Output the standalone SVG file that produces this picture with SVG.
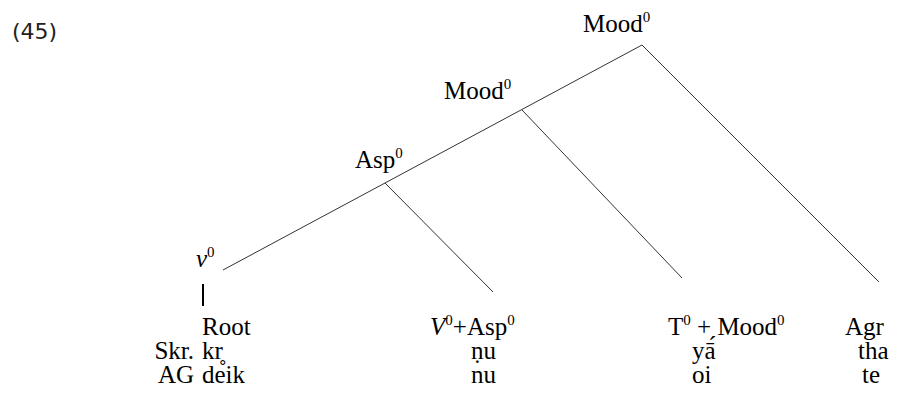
<svg xmlns="http://www.w3.org/2000/svg" width="921" height="408" viewBox="0 0 921 408">
<style>
.t{font-family:"Liberation Serif","Times New Roman","DejaVu Serif",serif;font-size:25px;fill:#000}
.s{font-size:15px}
.n{font-family:"DejaVu Sans",Verdana,sans-serif;font-size:22px;fill:#222}
.e{stroke:#333;stroke-width:1;fill:none}
</style>
<rect width="921" height="408" fill="#fff"/>
<text class="n" x="12" y="39">(45)</text>
<g id="connectors">
<line class="e" x1="642" y1="45" x2="223" y2="270"/>
<line class="e" x1="642" y1="45" x2="879" y2="282"/>
<line class="e" x1="522" y1="110" x2="682" y2="278"/>
<line class="e" x1="385" y1="183" x2="493" y2="292"/>
<line x1="203" y1="284" x2="203" y2="306" stroke="#000" stroke-width="2"/>
</g>
<g id="mood-top"><text class="t" x="583" y="32">Mood<tspan class="s" dy="-10">0</tspan></text></g>
<g id="mood-mid"><text class="t" x="444" y="99">Mood<tspan class="s" dy="-10">0</tspan></text></g>
<g id="asp"><text class="t" x="355" y="168">Asp<tspan class="s" dy="-10">0</tspan></text></g>
<g id="v"><text class="t" x="196" y="267"><tspan font-style="italic">v</tspan><tspan class="s" dy="-10">0</tspan></text></g>
<g id="root"><text class="t" x="202" y="335">Root</text></g>
<g id="vasp"><text class="t" x="430" y="335"><tspan font-style="italic">V</tspan><tspan class="s" dy="-10">0</tspan><tspan dy="10">+Asp</tspan><tspan class="s" dy="-10">0</tspan></text></g>
<g id="tmood"><text class="t" x="668" y="335">T<tspan class="s" dy="-10">0</tspan><tspan dy="10"> + Mood</tspan><tspan class="s" dy="-10">0</tspan></text></g>
<g id="agr"><text class="t" x="845" y="335">Agr</text></g>
<g id="rows">
<text class="t" x="194" y="359" text-anchor="end">Skr.</text>
<text class="t" x="202" y="359">kr̥</text>
<text class="t" x="471" y="359">ṇu</text>
<text class="t" x="692" y="359">yā́</text>
<text class="t" x="858" y="359">tha</text>
<text class="t" x="194" y="383" text-anchor="end">AG</text>
<text class="t" x="202" y="383">deik</text>
<text class="t" x="471" y="383">nu</text>
<text class="t" x="692" y="383">oi</text>
<text class="t" x="862" y="383">te</text>
</g>
</svg>
